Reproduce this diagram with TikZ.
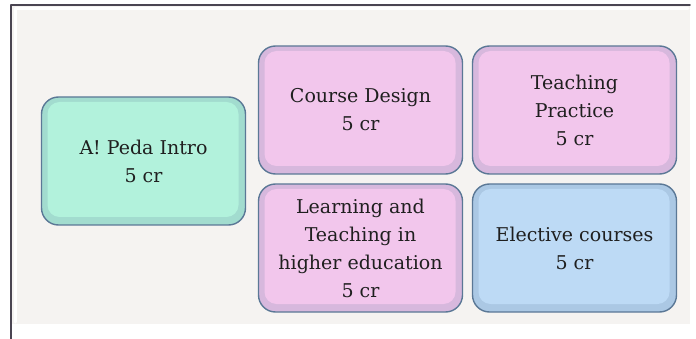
\documentclass[tikz,border=0pt]{standalone}
\usepackage{fontspec}
\setmainfont{DejaVu Serif}
\usetikzlibrary{positioning}

\definecolor{panelbg}{HTML}{F5F3F1}
\definecolor{framedark}{HTML}{4A4552}
\definecolor{boxline}{HTML}{5B7896}
\definecolor{introfill}{HTML}{B2F2DC}
\definecolor{corefill}{HTML}{F2C6EC}
\definecolor{electfill}{HTML}{BDDAF5}

\tikzset{
  course/.style={draw=boxline, line width=1.4pt, rounded corners=17pt,
    minimum width=204pt, minimum height=128pt, align=center,
    font=\fontsize{19}{28}\selectfont, text=black!88,
    fill=#1!82!boxline,
    path picture={
      \fill[#1, rounded corners=12pt]
        ([xshift=6pt,yshift=8pt]path picture bounding box.south west)
        rectangle ([xshift=-7pt,yshift=-5pt]path picture bounding box.north east);
    }},
  intro/.style={course=introfill},
  core/.style={course=corefill},
  elect/.style={course=electfill}
}

\begin{document}
\begin{tikzpicture}[x=1pt, y=-1pt, line cap=round, line join=round]
    \useasboundingbox (0,0) rectangle (696,339);
    \fill[white] (0,0) rectangle (696,339);

    % panel
    \fill[panelbg] (11,5) rectangle (690,324);
    \draw[white, line width=3pt] (15,322) -- (15,9) -- (688,9);
    \draw[framedark, line width=1.6pt] (11,339) -- (11,5) -- (690,5);

    % courses
    \node[intro] (pedaintro) at (143.5,161) {A! Peda Intro\\5 cr};
    \node[core] (design) at (360.5,110) {Course Design\\5 cr};
    \node[core] (practice) at (574.5,110) {Teaching\\Practice\\5 cr};
    \node[core] (learning) at (360.5,248) {Learning and\\Teaching in\\higher education\\5 cr};
    \node[elect] (elective) at (574.5,248) {Elective courses\\5 cr};

\end{tikzpicture}
\end{document}
